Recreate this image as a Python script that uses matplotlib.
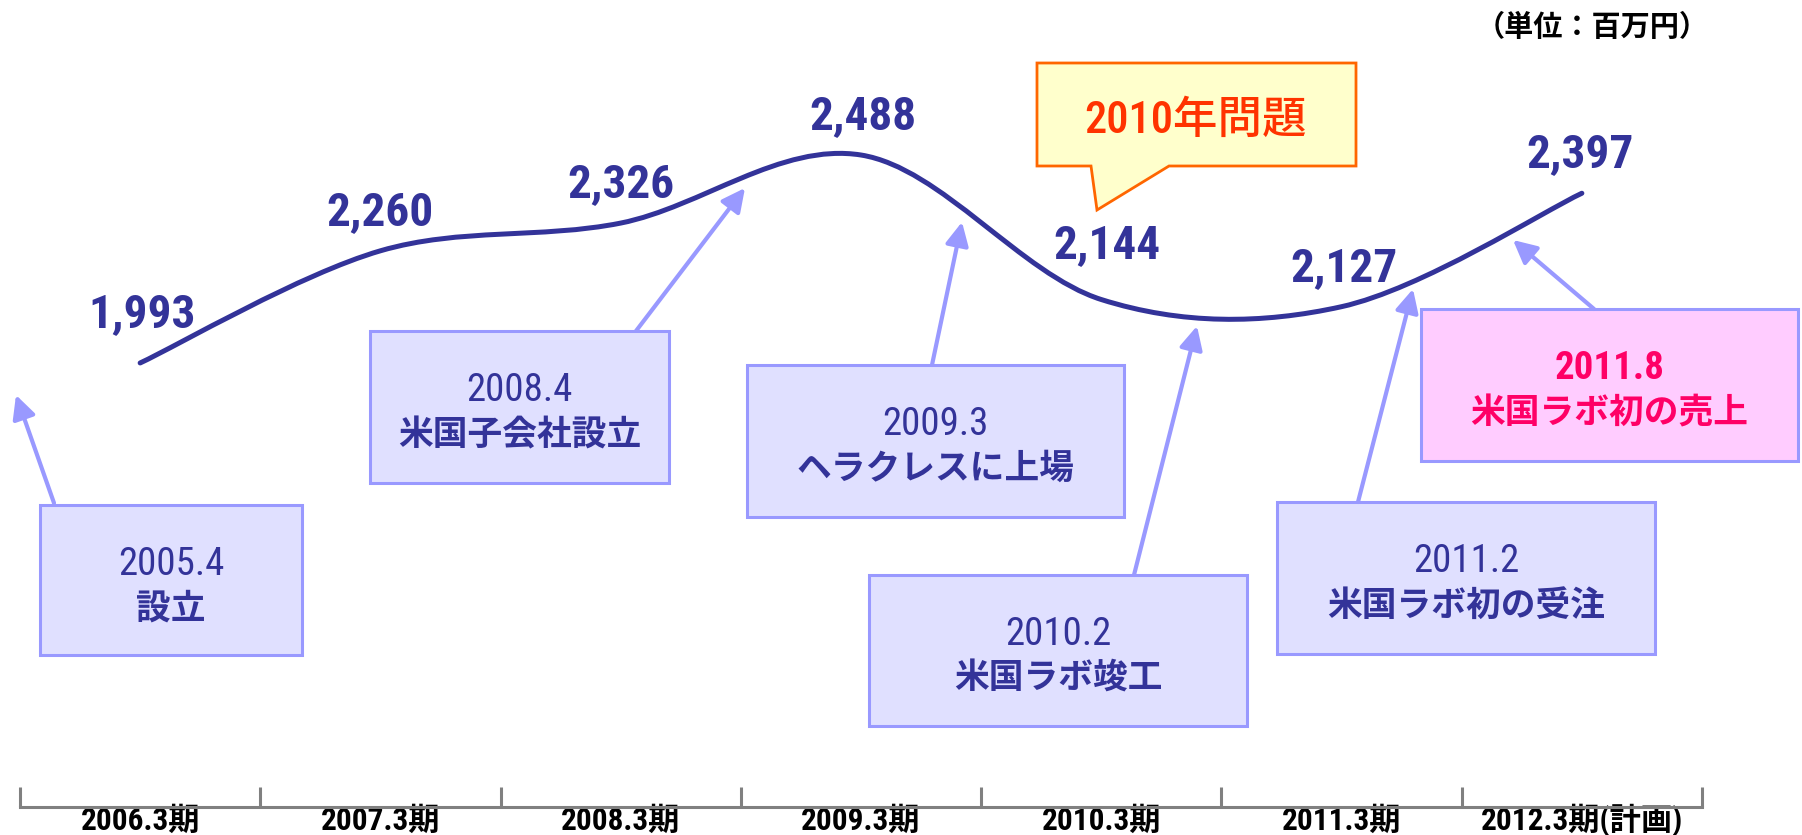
import numpy as np
import matplotlib
matplotlib.use("Agg")
import matplotlib.pyplot as plt
from matplotlib.path import Path
from matplotlib.patches import PathPatch, Rectangle, Polygon, FancyArrowPatch

# ---------------- data ----------------
periods = ["2006.3期", "2007.3期", "2008.3期", "2009.3期", "2010.3期", "2011.3期", "2012.3期(計画)"]
sales = [1993, 2260, 2326, 2488, 2144, 2127, 2397]
sales_labels = ["1,993", "2,260", "2,326", "2,488", "2,144", "2,127", "2,397"]
event_dates = ["2005.4", "2008.4", "2009.3", "2010.2", "2011.2", "2011.8"]
event_texts = ["設立", "米国子会社設立", "ヘラクレスに上場", "米国ラボ竣工", "米国ラボ初の受注", "米国ラボ初の売上"]
callout_text = "2010年問題"
unit_text = "（単位：百万円）"

# ---------------- style ----------------
W, H, DPI = 1802, 835, 100
FONT = ['Roboto Condensed', 'Noto Sans CJK JP']
NAVY = '#333399'
ARROW = '#9999FF'
BOX_FILL = '#E0E0FF'
PINK_FILL = '#FFCCFF'
PINK_TEXT = '#FF0066'
AXIS_GRAY = '#808080'

fig = plt.figure(figsize=(W / DPI, H / DPI), dpi=DPI)
fig.patch.set_facecolor('white')

# data axes: category axis spans pixel 20..1702, baseline at pixel row 807
ax = fig.add_axes([20 / W, (H - 807) / H, 1682 / W, 807 / H])
ax.patch.set_visible(False)
ax.set_xlim(0, len(periods))
ax.set_ylim(936, 2857)
for s in ['left', 'right', 'top']:
    ax.spines[s].set_visible(False)
ax.spines['bottom'].set_color(AXIS_GRAY)
ax.spines['bottom'].set_linewidth(2.2)
ax.set_yticks([])
ax.set_xticks(np.arange(len(periods) + 1))
ax.set_xticklabels([])
ax.tick_params(axis='x', which='major', direction='in', length=14.4, width=2.2, color=AXIS_GRAY)
xc = np.arange(len(periods)) + 0.5
ax.set_xticks(xc, minor=True)
ax.set_xticklabels(periods, minor=True)
ax.tick_params(axis='x', which='minor', length=0, pad=16.2)
for t in ax.get_xticklabels(minor=True):
    t.set_verticalalignment('baseline')
    t.set_fontfamily(FONT)
    t.set_fontsize(22.5)
    t.set_fontweight('bold')
    t.set_color('black')

# smoothed line (Catmull-Rom style cubic Bezier through the data points)
pts = np.column_stack([xc, np.array(sales, float)])
n = len(pts)
verts = [pts[0]]
codes = [Path.MOVETO]
for i in range(n - 1):
    p0 = pts[max(i - 1, 0)]
    p1 = pts[i]
    p2 = pts[i + 1]
    p3 = pts[min(i + 2, n - 1)]
    verts += [p1 + (p2 - p0) / 6.0, p2 - (p3 - p1) / 6.0, p2]
    codes += [Path.CURVE4] * 3
ax.add_patch(PathPatch(Path(verts, codes), fill=False, edgecolor=NAVY,
                       lw=3.6, capstyle='round', joinstyle='round', zorder=3))

# value labels
label_offsets = [(2, 36), (0, 26), (0, 26), (2, 26), (6, 41), (2, 26), (-2, 26)]
for xi, v, lbl, (dx, dy) in zip(xc, sales, sales_labels, label_offsets):
    ax.annotate(lbl, (xi, v), xytext=(dx, dy), textcoords='offset pixels',
                ha='center', va='baseline', fontsize=34, fontweight='bold',
                color=NAVY, family=FONT)

# ---------------- overlay (pixel coordinates) ----------------
ov = fig.add_axes([0, 0, 1, 1], zorder=5)
ov.set_xlim(0, W)
ov.set_ylim(H, 0)
ov.axis('off')

boxes = [(40, 505, 302, 655), (370, 331, 669, 483), (747, 365, 1124, 517),
         (869, 575, 1247, 726), (1277, 502, 1655, 654), (1421, 309, 1798, 461)]
arrows = [((54, 503), (16, 395)), ((636, 331), (745, 188)), ((932, 365), (962, 222)),
          ((1134, 575), (1197, 326)), ((1358, 502), (1413, 289)), ((1594, 309), (1513, 240))]

for k, ((x0, y0, x1, y1), (tail, tip)) in enumerate(zip(boxes, arrows)):
    pink = (k == len(boxes) - 1)
    ov.add_patch(Rectangle((x0, y0), x1 - x0, y1 - y0,
                           facecolor=PINK_FILL if pink else BOX_FILL,
                           edgecolor=ARROW, lw=2.2))
    ov.add_patch(FancyArrowPatch(tail, tip, arrowstyle='-|>,head_length=0.7,head_width=0.35',
                                 mutation_scale=20, color=ARROW, lw=3,
                                 shrinkA=0, shrinkB=0))
    cx = (x0 + x1) / 2
    tc = PINK_TEXT if pink else NAVY
    ov.text(cx, y0 + 70, event_dates[k], ha='center', va='baseline',
            fontsize=28, fontweight='bold' if pink else 'normal',
            color=tc, family=FONT)
    ov.text(cx, y0 + 114, event_texts[k], ha='center', va='baseline',
            fontsize=25, fontweight='bold', color=tc, family=FONT)

# callout "2010年問題"
ov.add_patch(Polygon([(1037, 63), (1356, 63), (1356, 166), (1169, 166), (1097, 210),
                      (1091, 166), (1037, 166)], closed=True,
                     facecolor='#FFFFCC', edgecolor='#FF6600', lw=2))
ov.text(1196, 133, callout_text, ha='center', va='baseline', fontsize=32,
        fontweight='medium', color='#FF3300', family=FONT)

# unit label
ov.text(1592, 36, unit_text, ha='center', va='baseline', fontsize=21,
        fontweight='bold', color='black', family=FONT)

fig.savefig('out.png', dpi=DPI, facecolor='white')
